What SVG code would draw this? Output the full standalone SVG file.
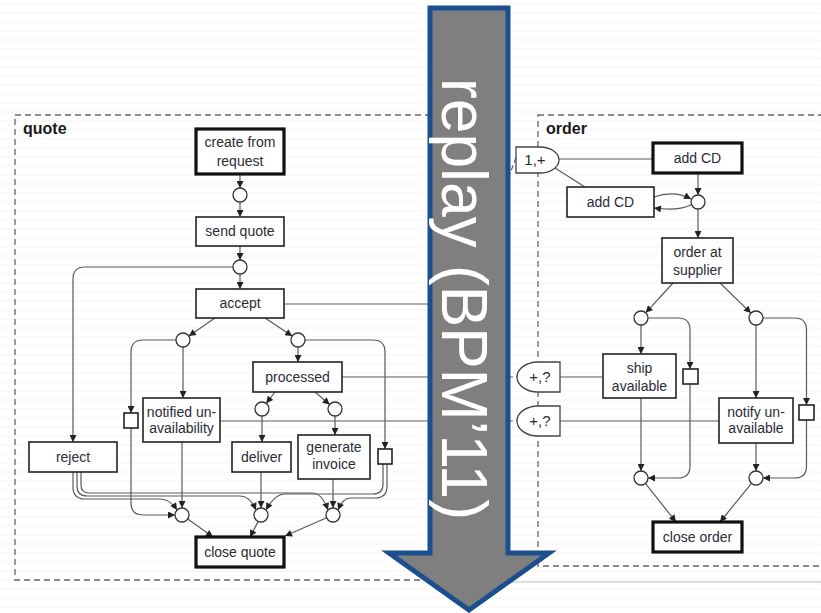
<svg xmlns="http://www.w3.org/2000/svg" width="821" height="613" viewBox="0 0 821 613">
  <defs>
    <pattern id="zigzag" width="8" height="9" patternUnits="userSpaceOnUse">
      <path d="M0,5 L2,3 L4,5 L6,3 L8,5" fill="none" stroke="#f5f5f5" stroke-width="1"/>
    </pattern>
    <marker id="ah" viewBox="0 0 10 10" refX="10" refY="5" markerWidth="8" markerHeight="7" markerUnits="userSpaceOnUse" orient="auto">
      <path d="M0,0 L10,5 L0,10 z" fill="#222"/>
    </marker>
    <style>
      .box { fill: #fff; stroke: #222; stroke-width: 1.6; }
      .thick { fill: #fff; stroke: #111; stroke-width: 3.2; }
      .place { fill: #fff; stroke: #333; stroke-width: 1.3; }
      .gate { fill: #fff; stroke: #444; stroke-width: 1.3; }
      .edge { fill: none; stroke: #5a5a5a; stroke-width: 1.2; marker-end: url(#ah); }
      .link { fill: none; stroke: #5a5a5a; stroke-width: 1.2; }
      .dash { fill: none; stroke: #5a5a5a; stroke-width: 1.2; stroke-dasharray: 5 3; }
      .frame { fill: none; stroke: #666; stroke-width: 1.3; stroke-dasharray: 6 4; }
      .lbl { font-family: "Liberation Sans", Arial, sans-serif; font-size: 14px; fill: #2b2b36; text-anchor: middle; }
      .port { font-family: "Liberation Sans", Arial, sans-serif; font-size: 15px; fill: #2b2b36; text-anchor: middle; }
      .title { font-family: "Liberation Sans", Arial, sans-serif; font-size: 16px; font-weight: bold; fill: #1a1a1a; }
    </style>
  </defs>

  <!-- page background -->
  <rect width="821" height="613" fill="#fff"/>
  <rect width="821" height="613" fill="url(#zigzag)"/>

  <!-- process frames -->
  <g id="frame-quote">
    <rect class="frame" x="15" y="115" width="485" height="465"/>
    <text class="title" x="23" y="134">quote</text>
  </g>
  <g id="frame-order">
    <rect class="frame" x="538" y="115" width="320" height="451"/>
    <text class="title" x="546" y="134">order</text>
  </g>
  <line x1="470" y1="582" x2="821" y2="582" stroke="#bbb" stroke-width="1.2"/>

  <g id="connectors">
    <!-- quote: main line -->
    <line class="edge" x1="240" y1="174" x2="240" y2="188"/>
    <line class="edge" x1="240" y1="202" x2="240" y2="217"/>
    <line class="edge" x1="240" y1="246" x2="240" y2="260"/>
    <line class="edge" x1="240" y1="274" x2="240" y2="289"/>
    <path class="edge" d="M233,267 H85 Q73,267 73,279 V442"/>
    <line class="edge" x1="215" y1="318" x2="188.8" y2="336"/>
    <line class="edge" x1="265" y1="318" x2="292.2" y2="336.1"/>
    <line class="edge" x1="183" y1="347" x2="183" y2="398"/>
    <path class="edge" d="M176,340 H143 Q131,340 131,352 V413"/>
    <line class="edge" x1="298" y1="347" x2="298" y2="362"/>
    <path class="edge" d="M305,340 H373 Q385,340 385,352 V449"/>
    <line class="edge" x1="275" y1="392" x2="266.2" y2="403.4"/>
    <line class="edge" x1="315" y1="392" x2="329.7" y2="404.5"/>
    <line class="edge" x1="262" y1="416" x2="262" y2="442"/>
    <line class="edge" x1="335" y1="416" x2="335" y2="435"/>
    <!-- quote: joins before close quote -->
    <line class="edge" x1="182" y1="442" x2="182" y2="508"/>
    <line class="edge" x1="261" y1="472" x2="261" y2="508"/>
    <line class="edge" x1="333" y1="479" x2="333" y2="508"/>
    <path class="edge" d="M131,428 V503 Q131,515 143,515 H175"/>
    <path class="edge" d="M73,472 V487 Q73,499 85,499 H160 Q170,499 177,510"/>
    <path class="edge" d="M77,472 V486 Q77,496 87,496 H240 Q250,496 256,510"/>
    <path class="edge" d="M81,472 V485 Q81,493 89,493 H312 Q322,493 328,510"/>
    <path class="edge" d="M387,464 V486 Q387,498 375,498 H350 Q343,498 338,510"/>
    <path class="edge" d="M383,464 V484 Q383,494 373,494 H285 Q275,494 266,510"/>
    <line class="edge" x1="187.7" y1="519" x2="213" y2="537"/>
    <line class="edge" x1="258.2" y1="521.4" x2="250" y2="537"/>
    <line class="edge" x1="326.6" y1="517.8" x2="285" y2="536"/>

    <!-- links between the two processes -->
    <line class="link" x1="284" y1="304" x2="508" y2="304"/>
    <line class="link" x1="342" y1="377" x2="508" y2="377"/>
    <line class="link" x1="220" y1="421" x2="508" y2="421"/>
    <line class="dash" x1="508" y1="377" x2="517" y2="377"/>
    <line class="dash" x1="508" y1="421" x2="517" y2="421"/>
    <line class="dash" x1="516" y1="158" x2="505" y2="186"/>
    <line class="link" x1="559" y1="159" x2="653" y2="159"/>
    <line class="link" x1="555" y1="168" x2="585" y2="187"/>
    <line class="link" x1="560" y1="377" x2="603" y2="377"/>
    <line class="link" x1="560" y1="421" x2="719" y2="421"/>

    <!-- order -->
    <line class="edge" x1="698" y1="173" x2="698" y2="195"/>
    <path class="edge" d="M654,197 C668,192 680,193 691,199"/>
    <path class="edge" d="M691,205 C680,210 668,210 654,208"/>
    <line class="edge" x1="698" y1="209" x2="698" y2="238"/>
    <line class="edge" x1="673" y1="283" x2="645.7" y2="312.8"/>
    <line class="edge" x1="720" y1="283" x2="751" y2="313.1"/>
    <line class="edge" x1="641" y1="325" x2="641" y2="354"/>
    <path class="edge" d="M648,318 H678 Q690,318 690,330 V369"/>
    <path class="edge" d="M690,384 V466 Q690,478 678,478 H648"/>
    <line class="edge" x1="641" y1="398" x2="641" y2="471"/>
    <line class="edge" x1="756" y1="325" x2="756" y2="398"/>
    <path class="edge" d="M763,318 H794.5 Q806.5,318 806.5,330 V405"/>
    <path class="edge" d="M806.5,420 V466 Q806.5,478 794.5,478 H763"/>
    <line class="edge" x1="756" y1="443" x2="756" y2="471"/>
    <line class="edge" x1="645.4" y1="483.4" x2="676" y2="522"/>
    <line class="edge" x1="751.5" y1="483.4" x2="720" y2="522"/>
  </g>

  <!-- quote nodes -->
  <g id="create-from-request">
    <rect class="thick" x="196" y="129" width="88" height="45"/>
    <text class="lbl" x="240" y="147">create from</text>
    <text class="lbl" x="240" y="166">request</text>
  </g>
  <g id="p-created"><circle class="place" cx="240" cy="195" r="7"/></g>
  <g id="send-quote">
    <rect class="box" x="196" y="217" width="88" height="29"/>
    <text class="lbl" x="240" y="236">send quote</text>
  </g>
  <g id="p-sent"><circle class="place" cx="240" cy="267" r="7"/></g>
  <g id="accept">
    <rect class="box" x="196" y="289" width="88" height="29"/>
    <text class="lbl" x="240" y="308">accept</text>
  </g>
  <g id="p-accept-left"><circle class="place" cx="183" cy="340" r="7"/></g>
  <g id="p-accept-right"><circle class="place" cx="298" cy="340" r="7"/></g>
  <g id="reject">
    <rect class="box" x="29" y="442" width="88" height="30"/>
    <text class="lbl" x="73" y="462">reject</text>
  </g>
  <g id="skip-notified"><rect class="box" x="124" y="413" width="14" height="15"/></g>
  <g id="notified-unavailability">
    <rect class="box" x="143" y="398" width="77" height="44"/>
    <text class="lbl" x="181.5" y="416.5">notified un-</text>
    <text class="lbl" x="181.5" y="433">availability</text>
  </g>
  <g id="processed">
    <rect class="box" x="253" y="362" width="89" height="30"/>
    <text class="lbl" x="297.5" y="382">processed</text>
  </g>
  <g id="p-processed-left"><circle class="place" cx="262" cy="409" r="7"/></g>
  <g id="p-processed-right"><circle class="place" cx="335" cy="409" r="7"/></g>
  <g id="deliver">
    <rect class="box" x="232" y="442" width="59" height="30"/>
    <text class="lbl" x="261.5" y="462">deliver</text>
  </g>
  <g id="generate-invoice">
    <rect class="box" x="298" y="435" width="72" height="44"/>
    <text class="lbl" x="334" y="451.5">generate</text>
    <text class="lbl" x="334" y="469">invoice</text>
  </g>
  <g id="skip-processed"><rect class="box" x="378" y="449" width="14" height="15"/></g>
  <g id="p-join-1"><circle class="place" cx="182" cy="515" r="7"/></g>
  <g id="p-join-2"><circle class="place" cx="261" cy="515" r="7"/></g>
  <g id="p-join-3"><circle class="place" cx="333" cy="515" r="7"/></g>
  <g id="close-quote">
    <rect class="thick" x="196" y="537" width="88" height="30"/>
    <text class="lbl" x="240" y="557">close quote</text>
  </g>

  <!-- order nodes -->
  <g id="port-add-cd">
    <path class="gate" d="M516,147 H540 A19,13 0 0 1 540,173 H516 Z"/>
    <text class="port" x="535" y="165">1,+</text>
  </g>
  <g id="add-cd-first">
    <rect class="thick" x="653" y="143" width="89" height="30"/>
    <text class="lbl" x="697.5" y="163">add CD</text>
  </g>
  <g id="add-cd">
    <rect class="box" x="567" y="187" width="87" height="30"/>
    <text class="lbl" x="610.5" y="207">add CD</text>
  </g>
  <g id="p-cds"><circle class="place" cx="698" cy="202" r="7"/></g>
  <g id="order-at-supplier">
    <rect class="box" x="662" y="238" width="71" height="45"/>
    <text class="lbl" x="697.5" y="256.5">order at</text>
    <text class="lbl" x="697.5" y="275">supplier</text>
  </g>
  <g id="p-order-left"><circle class="place" cx="641" cy="318" r="7"/></g>
  <g id="p-order-right"><circle class="place" cx="756" cy="318" r="7"/></g>
  <g id="port-ship">
    <path class="gate" d="M560,362 H538 A21,15 0 0 0 538,392 H560 Z"/>
    <text class="port" x="540" y="382">+,?</text>
  </g>
  <g id="port-notify">
    <path class="gate" d="M560,406 H538 A21,15 0 0 0 538,436 H560 Z"/>
    <text class="port" x="540" y="426">+,?</text>
  </g>
  <g id="ship-available">
    <rect class="box" x="603" y="354" width="73" height="44"/>
    <text class="lbl" x="639.5" y="373">ship</text>
    <text class="lbl" x="639.5" y="391">available</text>
  </g>
  <g id="skip-ship"><rect class="box" x="683" y="369" width="15" height="15"/></g>
  <g id="notify-unavailable">
    <rect class="box" x="719" y="398" width="74" height="45"/>
    <text class="lbl" x="756" y="417">notify un-</text>
    <text class="lbl" x="756" y="433">available</text>
  </g>
  <g id="skip-notify"><rect class="box" x="799" y="405" width="15" height="15"/></g>
  <g id="p-order-join-1"><circle class="place" cx="641" cy="478" r="7"/></g>
  <g id="p-order-join-2"><circle class="place" cx="756" cy="478" r="7"/></g>
  <g id="close-order">
    <rect class="thick" x="653" y="522" width="89" height="30"/>
    <text class="lbl" x="697.5" y="542">close order</text>
  </g>

  <!-- overlay arrow -->
  <g id="replay-arrow">
    <path d="M430,8 H508 V553 H549 L469,610 L389,553 H430 Z" fill="#7f7f7f" stroke="#1b4f8e" stroke-width="5" stroke-linejoin="miter"/>
    <text transform="translate(442,299) rotate(90)" text-anchor="middle" font-family="Liberation Sans, Arial, sans-serif" font-size="64" fill="#fff" textLength="442" lengthAdjust="spacingAndGlyphs">replay (BPM’11)</text>
  </g>
</svg>
